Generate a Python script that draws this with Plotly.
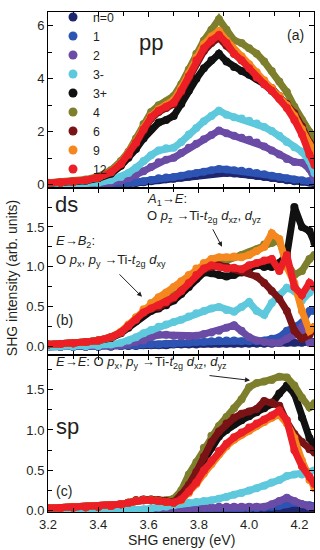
import plotly.graph_objects as go
from plotly.subplots import make_subplots

# ---------------- data ----------------
energy = [3.20, 3.25, 3.30, 3.35, 3.40, 3.45, 3.49, 3.52, 3.55, 3.58, 3.61,
          3.64, 3.67, 3.70, 3.73, 3.76, 3.79, 3.82, 3.85, 3.88, 3.91, 3.94,
          3.97, 4.00, 4.03, 4.06, 4.09, 4.12, 4.15, 4.18, 4.21, 4.24, 4.26]

labels = ["n=0", "1", "2", "3-", "3+", "4", "6", "9", "12"]
colors = ["#1f2670", "#2d53b3", "#6a4ba6", "#5ec8dc", "#111111",
          "#7e7f2c", "#7a1315", "#f5871f", "#ec1f26"]

# panel (a) pp
pp_0 = [0.00,0.00,0.00,0.00,0.01,0.01,0.03,0.05,0.07,0.10,0.14,0.18,0.21,0.23,0.27,0.31,0.35,0.39,0.43,0.46,0.45,0.43,0.41,0.38,0.34,0.30,0.26,0.22,0.18,0.14,0.12,0.09,0.05]
pp_1 = [0.00,0.00,0.00,0.01,0.01,0.02,0.04,0.07,0.10,0.14,0.19,0.25,0.28,0.30,0.35,0.40,0.45,0.50,0.55,0.60,0.58,0.55,0.53,0.50,0.45,0.40,0.35,0.30,0.25,0.20,0.18,0.15,0.10]
pp_2 = [0.00,0.00,0.01,0.02,0.03,0.08,0.15,0.25,0.38,0.52,0.68,0.85,0.95,1.02,1.20,1.40,1.55,1.72,1.88,2.05,1.95,1.85,1.78,1.70,1.60,1.45,1.30,1.15,0.98,0.86,0.84,0.60,0.22]
pp_3m = [0.00,0.01,0.02,0.04,0.08,0.18,0.30,0.45,0.65,0.90,1.12,1.30,1.38,1.40,1.62,1.90,2.15,2.40,2.60,2.80,2.65,2.55,2.50,2.42,2.32,2.18,2.03,1.85,1.62,1.42,1.25,0.90,0.45]
pp_3p = [0.06,0.08,0.11,0.16,0.25,0.42,0.72,1.02,1.35,1.75,2.10,2.35,2.45,2.60,3.05,3.55,4.00,4.40,4.70,4.95,4.65,4.45,4.30,4.15,4.00,3.80,3.55,3.30,3.00,2.60,2.00,1.30,1.00]
pp_4 = [0.08,0.10,0.14,0.20,0.32,0.55,0.90,1.25,1.75,2.30,2.75,3.00,3.15,3.35,3.80,4.35,4.95,5.45,5.85,6.25,5.85,5.45,5.35,5.15,4.95,4.65,4.30,3.90,3.50,2.95,2.45,2.00,1.70]
pp_6 = [0.07,0.09,0.12,0.18,0.28,0.47,0.78,1.12,1.55,2.05,2.50,2.75,2.90,3.05,3.50,4.05,4.60,5.05,5.35,5.55,5.25,4.95,4.70,4.45,4.10,3.85,3.65,3.35,3.05,2.70,2.20,1.60,1.40]
pp_9 = [0.07,0.09,0.12,0.18,0.28,0.49,0.82,1.18,1.63,2.15,2.60,2.85,3.00,3.20,3.65,4.20,4.80,5.30,5.60,5.80,5.45,5.10,4.85,4.55,4.25,3.95,3.65,3.35,3.00,2.60,2.10,1.50,1.20]
pp_12 = [0.07,0.09,0.12,0.18,0.28,0.48,0.80,1.15,1.60,2.10,2.55,2.80,2.95,3.10,3.55,4.10,4.70,5.15,5.45,5.65,5.35,4.95,4.70,4.40,4.05,3.80,3.55,3.25,2.90,2.45,1.90,1.15,0.75]

# panel (b) ds
ds_0 = [0.00,0.00,0.00,0.00,0.00,0.00,0.01,0.01,0.01,0.02,0.02,0.02,0.02,0.03,0.03,0.03,0.03,0.04,0.04,0.04,0.04,0.04,0.04,0.04,0.04,0.04,0.04,0.05,0.05,0.05,0.05,0.06,0.06]
ds_1 = [0.00,0.00,0.00,0.00,0.00,0.01,0.01,0.02,0.02,0.03,0.03,0.03,0.04,0.04,0.05,0.05,0.06,0.06,0.07,0.08,0.08,0.08,0.07,0.07,0.07,0.08,0.10,0.12,0.20,0.25,0.30,0.45,0.45]
ds_2 = [0.00,0.00,0.00,0.00,0.00,0.01,0.02,0.04,0.06,0.08,0.12,0.15,0.15,0.14,0.13,0.13,0.14,0.16,0.18,0.20,0.24,0.27,0.20,0.12,0.08,0.06,0.05,0.05,0.10,0.15,0.25,0.05,0.05]
ds_3m = [0.00,0.003,0.005,0.008,0.01,0.03,0.05,0.08,0.12,0.17,0.21,0.25,0.28,0.31,0.34,0.38,0.42,0.45,0.48,0.50,0.46,0.44,0.50,0.56,0.45,0.40,0.55,0.65,0.74,0.70,0.58,0.68,0.74]
ds_3p = [0.03,0.035,0.045,0.06,0.08,0.11,0.17,0.24,0.32,0.40,0.45,0.48,0.52,0.58,0.66,0.75,0.85,0.93,0.92,0.90,0.88,0.90,0.93,0.98,1.02,1.00,1.00,1.05,1.15,1.75,1.50,1.45,1.30]
ds_4 = [0.03,0.035,0.045,0.06,0.08,0.12,0.18,0.27,0.36,0.45,0.52,0.58,0.64,0.70,0.79,0.88,0.95,1.02,1.05,1.06,1.08,1.12,1.15,1.18,1.22,1.28,1.30,1.33,1.05,0.90,0.95,1.10,1.15]
ds_6 = [0.03,0.035,0.045,0.06,0.08,0.12,0.18,0.26,0.35,0.43,0.48,0.50,0.55,0.61,0.70,0.80,0.90,0.97,1.00,1.02,1.00,0.97,0.95,0.92,0.88,0.80,0.70,0.60,0.45,0.20,0.10,0.15,0.25]
ds_9 = [0.03,0.035,0.045,0.06,0.08,0.12,0.19,0.28,0.37,0.47,0.55,0.62,0.68,0.75,0.82,0.90,0.98,1.05,1.10,1.12,1.12,1.13,1.12,1.15,1.20,1.25,1.42,1.35,1.00,0.80,0.45,0.20,0.25]
ds_12 = [0.03,0.035,0.045,0.06,0.08,0.12,0.18,0.26,0.34,0.43,0.48,0.52,0.56,0.62,0.70,0.80,0.90,0.98,1.02,1.00,0.98,0.99,0.97,1.02,1.05,1.08,1.10,0.95,1.15,0.75,0.65,0.80,0.75]

# panel (c) sp
sp_0 = [0.00,0.00,0.00,0.00,0.00,0.00,0.00,0.00,0.00,0.00,0.00,0.00,0.00,0.005,0.005,0.005,0.01,0.01,0.01,0.01,0.01,0.01,0.01,0.01,0.01,0.01,0.02,0.02,0.02,0.03,0.03,0.02,0.02]
sp_1 = [0.00,0.00,0.00,0.00,0.00,0.00,0.00,0.00,0.00,0.00,0.005,0.005,0.01,0.01,0.01,0.01,0.02,0.02,0.02,0.02,0.02,0.02,0.03,0.03,0.03,0.04,0.05,0.06,0.08,0.10,0.08,0.07,0.06]
sp_2 = [0.00,0.00,0.00,0.00,0.00,0.00,0.00,0.005,0.01,0.01,0.01,0.01,0.01,0.02,0.02,0.03,0.03,0.04,0.04,0.05,0.05,0.05,0.05,0.05,0.05,0.05,0.08,0.12,0.16,0.12,0.08,0.05,0.05]
sp_3m = [0.00,0.00,0.00,0.00,0.00,0.005,0.008,0.01,0.01,0.02,0.03,0.04,0.05,0.07,0.09,0.10,0.11,0.12,0.13,0.15,0.17,0.20,0.22,0.25,0.28,0.31,0.35,0.38,0.43,0.45,0.45,0.48,0.50]
sp_3p = [0.03,0.035,0.04,0.045,0.05,0.06,0.08,0.10,0.12,0.13,0.13,0.12,0.11,0.10,0.18,0.30,0.45,0.62,0.78,0.92,1.00,1.07,1.12,1.17,1.22,1.27,1.32,1.45,1.55,1.45,1.15,0.90,0.80]
sp_4 = [0.03,0.035,0.04,0.045,0.05,0.06,0.08,0.10,0.13,0.14,0.14,0.13,0.13,0.15,0.25,0.45,0.60,0.78,0.93,1.05,1.16,1.27,1.38,1.53,1.58,1.60,1.62,1.66,1.65,1.55,1.40,1.28,1.33]
sp_6 = [0.03,0.035,0.04,0.045,0.05,0.06,0.08,0.10,0.13,0.14,0.14,0.13,0.12,0.11,0.20,0.32,0.48,0.67,0.85,0.98,1.08,1.15,1.20,1.23,1.26,1.36,1.34,1.30,1.10,0.95,0.85,0.76,0.72]
sp_9 = [0.03,0.035,0.04,0.045,0.05,0.06,0.08,0.10,0.12,0.13,0.13,0.12,0.11,0.10,0.13,0.22,0.33,0.46,0.58,0.70,0.80,0.88,0.94,0.99,1.05,1.10,1.15,1.19,1.08,0.90,0.62,0.38,0.28]
sp_12 = [0.03,0.035,0.04,0.045,0.05,0.06,0.08,0.10,0.12,0.13,0.13,0.12,0.11,0.10,0.14,0.24,0.35,0.50,0.62,0.74,0.83,0.91,0.97,1.03,1.08,1.13,1.18,1.24,1.12,0.75,0.55,0.42,0.33]

pp_series = [pp_0, pp_1, pp_2, pp_3m, pp_3p, pp_4, pp_6, pp_9, pp_12]
ds_series = [ds_0, ds_1, ds_2, ds_3m, ds_3p, ds_4, ds_6, ds_9, ds_12]
sp_series = [sp_0, sp_1, sp_2, sp_3m, sp_3p, sp_4, sp_6, sp_9, sp_12]

# ---------------- figure ----------------
W, H = 320, 550
ML, MR, MT, MB = 48, 6, 3, 38
PW, PH = W - ML - MR, H - MT - MB

def px(x):
    return (x - ML) / PW

def py(y):
    return (H - MB - y) / PH

FONT = "Liberation Sans, Arial, Helvetica, sans-serif"
TXT = "#231f20"

fig = make_subplots(rows=3, cols=1, shared_xaxes=True, vertical_spacing=0)

for row, series in enumerate([pp_series, ds_series, sp_series], start=1):
    for vals, lab, col in zip(series, labels, colors):
        fig.add_trace(go.Scatter(
            x=energy, y=vals, mode="lines+markers",
            line=dict(color=col, width=7),
            marker=dict(color=col, size=8),
            showlegend=False, hoverinfo="skip"), row=row, col=1)

# legend entries (markers only)
for lab, col in zip(labels, colors):
    fig.add_trace(go.Scatter(x=[None], y=[None], mode="markers", name=lab,
                             marker=dict(color=col, size=9), showlegend=True),
                  row=1, col=1)

axis_common = dict(showline=True, linecolor="black", linewidth=1, mirror="ticks",
                   ticks="inside", tickcolor="black", ticklen=5, tickwidth=1,
                   showgrid=False, zeroline=False,
                   tickfont=dict(family=FONT, size=13, color=TXT))

for r in (1, 2, 3):
    fig.update_xaxes(range=[3.2, 4.258], tick0=3.2, dtick=0.2,
                     minor=dict(dtick=0.1, ticks="inside", ticklen=4, tickcolor="black"),
                     row=r, col=1, **axis_common)

fig.update_xaxes(showticklabels=False, row=1, col=1)
fig.update_xaxes(showticklabels=False, row=2, col=1)
fig.update_xaxes(showticklabels=True, tickformat=".1f", row=3, col=1)

fig.update_yaxes(range=[-0.11, 6.52], tickvals=[0, 2, 4, 6], ticktext=["0", "2", "4", "6"],
                 minor=dict(tickvals=[1, 3, 5], ticks="inside", ticklen=4, tickcolor="black"),
                 row=1, col=1, **axis_common)
fig.update_yaxes(range=[-0.10, 1.99], tickvals=[0, 0.5, 1.0, 1.5],
                 ticktext=["0.0", "0.5", "1.0", "1.5"],
                 minor=dict(tickvals=[0.25, 0.75, 1.25, 1.75], ticks="inside", ticklen=4, tickcolor="black"),
                 row=2, col=1, **axis_common)
fig.update_yaxes(range=[-0.015, 1.93], tickvals=[0, 0.5, 1.0, 1.5],
                 ticktext=["0.0", "0.5", "1.0", "1.5"],
                 minor=dict(tickvals=[0.25, 0.75, 1.25, 1.75], ticks="inside", ticklen=4, tickcolor="black"),
                 row=3, col=1, **axis_common)

fig.update_layout(
    yaxis=dict(domain=[py(182), 1.0]),
    yaxis2=dict(domain=[py(352), py(182)]),
    yaxis3=dict(domain=[0.0, py(352)]),
)

ann = []
def txt(x, y, s, size=13, xanchor="left", angle=0):
    ann.append(dict(x=px(x), y=py(y), xref="paper", yref="paper", text=s,
                    showarrow=False, xanchor=xanchor, yanchor="middle",
                    textangle=angle, font=dict(family=FONT, size=size, color=TXT)))

def arrow(x0, y0, x1, y1):
    ann.append(dict(x=px(x1), y=py(y1), xref="paper", yref="paper", text="",
                    showarrow=True, ax=x0 - x1, ay=y0 - y1, arrowhead=2,
                    arrowsize=1, arrowwidth=1, arrowcolor=TXT))

txt(137, 34, "pp", size=22)
txt(295, 26, "(a)", size=14, xanchor="center")
txt(53, 199, "ds", size=22)
txt(54, 317, "(b)", size=14)
txt(54, 425, "sp", size=22)
txt(54, 491, "(c)", size=14)

txt(145, 194, "<i>A</i><sub>1</sub>→<i>E</i>:")
txt(145, 211, "O <i>p</i><sub>z</sub> →Ti-<i>t</i><sub>2g</sub> <i>d</i><sub>xz</sub>, <i>d</i><sub>yz</sub>")
txt(54, 237, "<i>E</i>→<i>B</i><sub>2</sub>:")
txt(54, 256, "O <i>p</i><sub>x</sub>, <i>p</i><sub>y</sub> →Ti-<i>t</i><sub>2g</sub> <i>d</i><sub>xy</sub>")
txt(54, 360, "<i>E</i>→<i>E</i>: O <i>p</i><sub>x</sub>, <i>p</i><sub>y</sub> →Ti-<i>t</i><sub>2g</sub> <i>d</i><sub>xz</sub>, <i>d</i><sub>yz</sub>")

arrow(212, 223, 222, 242)
arrow(118, 269, 142, 293)
arrow(208, 373, 250, 378)

txt(12, 274, "SHG intensity (arb. units)", size=14, xanchor="center", angle=-90)
txt(181, 541, "SHG energy (eV)", size=14, xanchor="center")

fig.update_layout(
    width=W, height=H,
    margin=dict(l=ML, r=MR, t=MT, b=MB),
    paper_bgcolor="white", plot_bgcolor="white",
    annotations=ann,
    showlegend=True,
    legend=dict(x=px(53), y=1.019, xanchor="left", yanchor="top",
                bgcolor="rgba(0,0,0,0)", borderwidth=0, maxheight=400,
                font=dict(family=FONT, size=12.3, color=TXT),
                tracegroupgap=0, itemwidth=30),
    font=dict(family=FONT, color=TXT),
)

fig.write_html("out.html", config={"displayModeBar": False},
               post_script="document.body.style.margin='0px';")
